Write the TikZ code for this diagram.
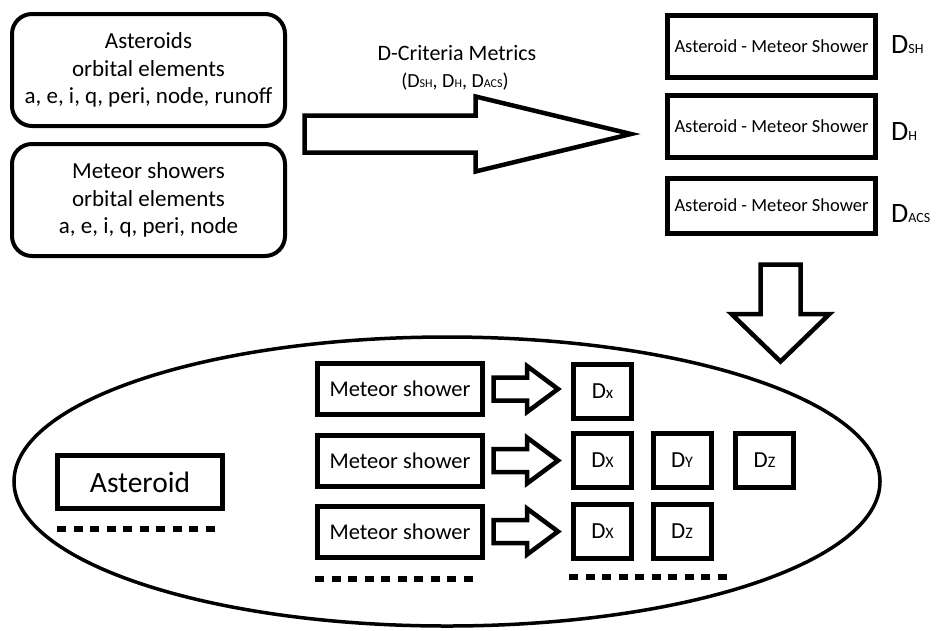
\documentclass[tikz,border=0pt]{standalone}
\usepackage{fontspec}
\setmainfont{Carlito}
\usetikzlibrary{shapes.geometric, calc}

\newcommand{\critsub}[3]{{\fontsize{#1}{#1}\selectfont D}{\fontsize{#2}{#2}\selectfont #3}}
\newcommand{\harrow}[5]{%
  \draw[blockarrow] let \p1=(#1), \p2=(#2) in
    (\x1,\y1+#3) -- (\x2-#5,\y1+#3) -- (\x2-#5,\y1+#4) -- (\x2,\y1)
    -- (\x2-#5,\y1-#4) -- (\x2-#5,\y1-#3) -- (\x1,\y1-#3) -- cycle;}
\newcommand{\varrow}[5]{%
  \draw[blockarrow] let \p1=(#1), \p2=(#2) in
    (\x1+#3,\y1) -- (\x1+#3,\y2+#5) -- (\x1+#4,\y2+#5) -- (\x1,\y2)
    -- (\x1-#4,\y2+#5) -- (\x1-#3,\y2+#5) -- (\x1-#3,\y1) -- cycle;}

\tikzset{
  roundbox/.style={draw, line width=4pt, rounded corners=20pt, align=center,
    font=\fontsize{23}{27.5}\selectfont, minimum width=273pt, minimum height=112pt},
  pairbox/.style={draw, line width=5pt, minimum width=208pt,
    font=\fontsize{18.5}{22}\selectfont},
  showerbox/.style={draw, line width=5pt, minimum width=165pt, minimum height=51pt,
    font=\fontsize{22.5}{26}\selectfont},
  dbox/.style={draw, line width=5pt, minimum width=58pt, minimum height=54pt},
  blockarrow/.style={draw, line width=4.5pt, line join=miter, fill=white},
  dotrow/.style={line width=6pt, dash pattern=on 9pt off 7.5pt},
  critlabel/.style={anchor=base west, inner sep=0pt},
}

\begin{document}
\begin{tikzpicture}[x=1pt, y=-1pt]
\useasboundingbox[fill=white] (0,0) rectangle (941,630);

\node[roundbox] (astel) at (148.5,70) {Asteroids\\orbital elements\\a, e, i, q, peri, node, runoff};
\node[roundbox] (showel) at (148.5,200) {Meteor showers\\orbital elements\\a, e, i, q, peri, node};

\node[anchor=base, font=\fontsize{22}{27}\selectfont] (metrics) at (457,60) {D-Criteria Metrics};
\node[anchor=base] (metriclist) at (455,87) {\fontsize{20}{20}\selectfont (\critsub{20}{12}{SH}, \critsub{20}{12}{H}, \critsub{20}{12}{ACS})};

\node[pairbox, minimum height=62pt] (pair1) at (771.5,46.5) {Asteroid - Meteor Shower};
\node[pairbox, minimum height=62pt] (pair2) at (771.5,126.5) {Asteroid - Meteor Shower};
\node[pairbox, minimum height=55pt] (pair3) at (771.5,205.5) {Asteroid - Meteor Shower};

\node[critlabel] (dsh) at (891,53) {\critsub{28}{14}{SH}};
\node[critlabel] (dh) at (891,140) {\critsub{28}{14}{H}};
\node[critlabel] (dacs) at (891,222) {\critsub{28}{14}{ACS}};

\coordinate (bigtail) at (304.5,134);
\coordinate (bigtip) at (631,134);
\harrow{bigtail}{bigtip}{18.5pt}{37.5pt}{155.5pt}

\coordinate (downtail) at (780.5,264.5);
\coordinate (downtip) at (780.5,361.5);
\varrow{downtail}{downtip}{20pt}{49pt}{47.5pt}

\node[draw, ellipse, line width=3.5pt, minimum width=866pt, minimum height=289pt] (group) at (447,481.5) {};

\node[showerbox, minimum height=53pt, font=\fontsize{29.5}{32}\selectfont] (ast) at (140,482) {Asteroid};

\node[showerbox] (shower1) at (400,389) {Meteor shower};
\node[showerbox] (shower2) at (400,460.5) {Meteor shower};
\node[showerbox] (shower3) at (400,531.5) {Meteor shower};

\node[dbox] (dx1) at (602.5,391.5) {\critsub{23}{17}{x}};
\node[dbox] (dx2) at (602.5,460.5) {\critsub{23}{16}{X}};
\node[dbox] (dy2) at (682,460.5) {\critsub{23}{16}{Y}};
\node[dbox] (dz2) at (764.5,460.5) {\critsub{23}{16}{Z}};
\node[dbox] (dx3) at (602.5,531) {\critsub{23}{16}{X}};
\node[dbox] (dz3) at (682,531) {\critsub{23}{16}{Z}};

\harrow{[xshift=8.5pt]shower1.east}{[xshift=-13pt]dx1.west}{11.5pt}{23pt}{31pt}
\harrow{[xshift=8.5pt]shower2.east}{[xshift=-13pt]dx2.west}{11.5pt}{23pt}{31pt}
\harrow{[xshift=8.5pt]shower3.east}{[xshift=-13pt]dx3.west}{11.5pt}{23pt}{31pt}

\draw[dotrow] (57,529) -- (214.5,529);
\draw[dotrow] (315,579) -- (472.5,579);
\draw[dotrow] (569,577) -- (726.5,577);
\end{tikzpicture}
\end{document}
